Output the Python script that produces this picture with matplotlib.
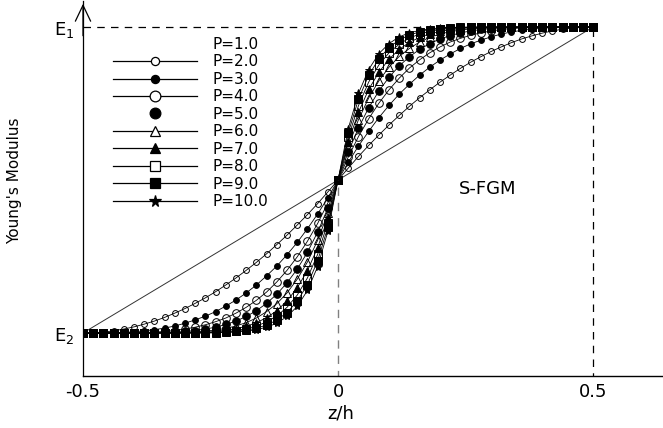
import numpy as np
import matplotlib
matplotlib.use('Agg')
from matplotlib import pyplot as plt
from matplotlib.lines import Line2D

# z/h sample positions (step 0.02)
z = np.linspace(-0.5, 0.5, 51)

# P=1 is a straight line
z_p1 = [-0.5, 0.0, 0.5]
e_p1 = [0.0, 0.5, 1.0]

# normalised Young's modulus (E2 -> 0, E1 -> 1)
e_p2 = [0, .001, .003, .007, .013, .02, .029, .039, .051, .065, .08, .097, .115, .135, .157, .18, .205, .231, .259, .289,
        .32, .353, .387, .423, .461, .5,
        .539, .577, .613, .647, .68, .711, .741, .769, .795, .82, .843, .865, .885, .903, .92, .935, .949, .961, .971,
        .98, .987, .993, .997, .999, 1]
e_p3 = [0, 0, 0, .001, .002, .004, .007, .011, .016, .023, .032, .043, .055, .07, .088, .108, .131, .157, .187, .219,
        .256, .296, .341, .389, .442, .5,
        .558, .611, .659, .704, .744, .781, .813, .843, .869, .892, .912, .93, .945, .957, .968, .977, .984, .989, .993,
        .996, .998, .999, 1, 1, 1]
e_p4 = [0, 0, 0, 0, 0, .001, .002, .003, .005, .008, .013, .019, .027, .037, .049, .065, .084, .107, .134, .167,
        .205, .249, .3, .358, .425, .5,
        .575, .642, .7, .751, .795, .833, .866, .893, .916, .935, .951, .963, .973, .981, .987, .992, .995, .997, .998,
        .999, 1, 1, 1, 1, 1]
e_p5 = [0, 0, 0, 0, 0, 0, 0, .001, .002, .003, .005, .008, .013, .019, .028, .039, .054, .073, .097, .127,
        .164, .209, .264, .33, .408, .5,
        .592, .67, .736, .791, .836, .873, .903, .927, .946, .961, .972, .981, .987, .992, .995, .997, .998, .999, 1,
        1, 1, 1, 1, 1, 1]
e_p6 = [0, 0, 0, 0, 0, 0, 0, 0, .001, .001, .002, .004, .006, .01, .015, .023, .034, .049, .07, .096,
        .131, .176, .232, .303, .391, .5,
        .609, .697, .768, .824, .869, .904, .93, .951, .966, .977, .985, .99, .994, .996, .998, .999, .999, 1, 1,
        1, 1, 1, 1, 1, 1]
e_p7 = [0, 0, 0, 0, 0, 0, 0, 0, 0, 0, .001, .002, .003, .005, .009, .014, .022, .034, .05, .073,
        .105, .148, .204, .279, .376, .5,
        .624, .721, .796, .852, .895, .927, .95, .966, .978, .986, .991, .995, .997, .998, .999, 1, 1, 1, 1,
        1, 1, 1, 1, 1, 1]
e_p8 = [0, 0, 0, 0, 0, 0, 0, 0, 0, 0, 0, .001, .001, .003, .005, .008, .014, .023, .036, .056,
        .084, .124, .18, .257, .361, .5,
        .639, .743, .82, .876, .916, .944, .964, .977, .986, .992, .995, .997, .999, .999, 1, 1, 1, 1, 1,
        1, 1, 1, 1, 1, 1]
e_p9 = [0, 0, 0, 0, 0, 0, 0, 0, 0, 0, 0, 0, .001, .001, .003, .005, .009, .016, .026, .042,
        .067, .104, .158, .236, .346, .5,
        .654, .764, .842, .896, .933, .958, .974, .984, .991, .995, .997, .999, .999, 1, 1, 1, 1, 1, 1,
        1, 1, 1, 1, 1, 1]
e_p10 = [0, 0, 0, 0, 0, 0, 0, 0, 0, 0, 0, 0, 0, .001, .002, .003, .006, .011, .019, .032,
         .054, .087, .139, .217, .332, .5,
         .668, .783, .861, .913, .946, .968, .981, .989, .994, .997, .998, .999, 1, 1, 1, 1, 1, 1, 1,
         1, 1, 1, 1, 1, 1]

labels = ['P=1.0', 'P=2.0', 'P=3.0', 'P=4.0', 'P=5.0', 'P=6.0', 'P=7.0', 'P=8.0', 'P=9.0', 'P=10.0']
series = [e_p2, e_p3, e_p4, e_p5, e_p6, e_p7, e_p8, e_p9, e_p10]

# marker, filled?, size
styles = [('o', False, 4.2), ('o', True, 4.2), ('o', False, 5.5), ('o', True, 5.5),
          ('^', False, 5.5), ('^', True, 5.5), ('s', False, 5.2), ('s', True, 5.5), ('*', True, 6)]

fig = plt.figure(figsize=(6.63, 4.28), dpi=100)
ax = fig.add_axes([83/663, 52/428, 580/663, 375/428])

ax.plot(z_p1, e_p1, color='#333333', lw=0.7)

handles = [Line2D([], [], color='none')]
for e, (m, filled, ms) in zip(series, styles):
    fc = 'black' if filled else 'none'
    ax.plot(z, e, color='black', lw=0.6, marker=m, ms=ms, mfc=fc, mec='black', mew=0.7)
    handles.append(Line2D([], [], color='black', lw=0.9, marker=m, ms=ms*1.4,
                          mfc=fc if filled else 'white', mec='black', mew=0.9))
# P=5.0 shows only its marker in the legend
handles[4].set_linestyle('none')

# reference lines
ax.plot([-0.5, 0.5], [1, 1], color='black', lw=0.9, ls=(0, (6, 5)))
ax.plot([0, 0], [-0.2, 0.5], color='gray', lw=1.0, ls=(0, (6, 5)))
ax.plot([0.5, 0.5], [-0.2, 1], color='black', lw=0.9, ls=(0, (6, 5)))

ax.set_xlim(-0.5, 0.637)
ax.set_ylim(-0.1405, 1.085)

ax.spines['top'].set_visible(False)
ax.spines['right'].set_visible(False)
ax.spines['left'].set_linewidth(0.9)
ax.spines['bottom'].set_linewidth(1.0)

ax.set_xticks([-0.5, 0, 0.5])
ax.set_xticklabels(['-0.5', '0', '0.5'])
ax.set_yticks([0, 1])
ax.set_yticklabels([r'$\mathregular{E_2}$', r'$\mathregular{E_1}$'])
ax.tick_params(axis='x', length=0, pad=5, labelsize=13)
ax.tick_params(axis='y', length=0, pad=6, labelsize=13)

ax.set_xlabel('z/h', fontsize=13)
ax.xaxis.set_label_coords(0.445, -0.075)
ax.set_ylabel("Young's Modulus", fontsize=11)
ax.yaxis.set_label_coords(-0.105, 0.52)

# arrow on top of the y axis
ax.annotate('', xy=(0, 1), xycoords='axes fraction', xytext=(0, 0.9),
            arrowprops=dict(arrowstyle='->,head_length=1.15,head_width=0.55', lw=0.9, color='black'),
            annotation_clip=False)

ax.text(0.294, 0.47, 'S-FGM', fontsize=13, ha='center', va='center')

ax.legend(handles, labels, loc='upper left', bbox_to_anchor=(113/663, 1 - 37/428),
          bbox_transform=fig.transFigure, frameon=False, fontsize=11, handlelength=5.5,
          handletextpad=1.0, labelspacing=0.16, borderpad=0, borderaxespad=0)

fig.savefig('out.png', dpi=100)
